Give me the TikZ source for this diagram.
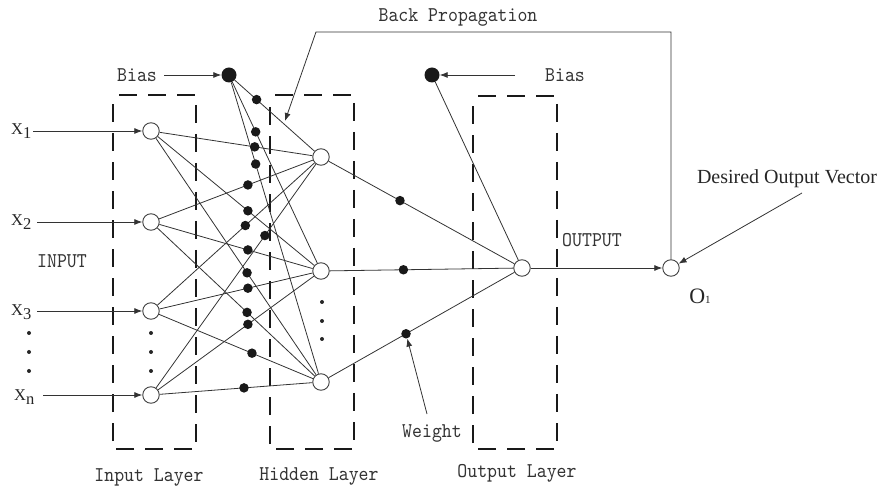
\documentclass[tikz,border=0pt]{standalone}
\usepackage{fontspec}
\usetikzlibrary{arrows.meta,calc}
\newfontfamily\labfont[Extension=.otf,FakeStretch=0.9]{lmmono10-regular}
\newfontfamily\serfont{Liberation Serif}
\begin{document}
\begin{tikzpicture}[x=1pt,y=-1pt,
  neuron/.style={circle,draw=black!75,fill=white,line width=0.9pt,minimum size=16.5pt,inner sep=0pt},
  wdot/.style={circle,fill=black!90,minimum size=9.5pt,inner sep=0pt},
  bdot/.style={circle,fill=black!90,minimum size=15pt,inner sep=0pt},
  edot/.style={circle,fill=black!85,minimum size=4pt,inner sep=0pt},
  conn/.style={line width=0.8pt,draw=black!80},
  arr/.style={conn,-{Latex[length=8pt,width=6pt]}},
  layerbox/.style={line width=2.6pt,draw=black!90,dash pattern=on 18pt off 11pt},
  lab/.style={font=\labfont\fontsize{21}{22}\selectfont,text=black!80,inner sep=0pt,anchor=base},
  ser/.style={font=\serfont\fontsize{20}{22}\selectfont,text=black!85,inner sep=0pt,anchor=base},
  xlab/.style={font=\serfont\fontsize{16.5}{18}\selectfont,text=black!85,inner sep=0pt,anchor=base west},
]
\useasboundingbox (0,0) rectangle (884,486);

% dashed layer boxes
\draw[layerbox] (119,95) -- (196,95) -- (196,449) -- (113,449) -- (113,103);
\draw[layerbox] (275,95) -- (354,95) -- (354,449) -- (270,449) -- (270,103);
\draw[layerbox] (478,96) -- (557,96) -- (557,449) -- (473,449) -- (473,104);

% neurons
\node[neuron] (I1) at (151,131) {};
\node[neuron] (I2) at (151,222) {};
\node[neuron] (I3) at (151,311) {};
\node[neuron] (In) at (151,395) {};
\node[neuron] (H1) at (321,157) {};
\node[neuron] (H2) at (321,271) {};
\node[neuron] (H3) at (321,382) {};
\node[neuron] (O) at (522,268) {};
\node[neuron] (O1) at (671,268) {};
\node[bdot] (B1) at (229,75) {};
\node[bdot] (B2) at (432,75) {};

% input -> hidden connections
\foreach \a in {I1,I2,I3,In}{
  \foreach \b in {H1,H2,H3}{
    \draw[conn] (\a) -- (\b);
  }
}
\foreach \b in {H1,H2,H3}{
  \draw[conn] (B1) -- (\b);
  \draw[conn] (\b) -- (O);
}
\draw[conn] (B2) -- (O);

% weight dots
\node[wdot] (d1) at ($(B1)!0.30!(H1)$) {};
\node[wdot] (d2) at ($(B1)!0.29!(H2)$) {};
\node[wdot] (d3) at ($(I1)!0.61!(H1)$) {};
\node[wdot] (d4) at ($(B1)!0.29!(H3)$) {};
\node[wdot] (d5) at ($(I2)!0.57!(H1)$) {};
\node[wdot] (d6) at ($(I1)!0.57!(H2)$) {};
\node[wdot] (d7) at ($(I3)!0.555!(H1)$) {};
\node[wdot] (d8) at ($(In)!0.67!(H1)$) {};
\node[wdot] (d9) at ($(I2)!0.57!(H2)$) {};
\node[wdot] (d10) at ($(I1)!0.565!(H3)$) {};
\node[wdot] (d11) at ($(I3)!0.57!(H2)$) {};
\node[wdot] (d12) at ($(I2)!0.565!(H3)$) {};
\node[wdot] (d13) at ($(In)!0.57!(H2)$) {};
\node[wdot] (d14) at ($(I3)!0.594!(H3)$) {};
\node[wdot] (d15) at ($(In)!0.547!(H3)$) {};
\node[wdot] (w1) at ($(H1)!0.393!(O)$) {};
\node[wdot] (w2) at ($(H2)!0.41!(O)$) {};
\node[wdot] (w3) at ($(H3)!0.423!(O)$) {};

% ellipsis dots
\foreach \y [count=\i] in {333,352,371}{
  \node[edot] (ex\i) at (29,\y) {};
  \node[edot] (ei\i) at (151,\y) {};
}
\foreach \y [count=\i] in {302,321,339}{
  \node[edot] (eh\i) at (322,\y) {};
}

% input labels and arrows
\node[xlab] (X1) at (11,135) {X\raisebox{-4pt}{1}};
\node[xlab] (X2) at (11,226) {X\raisebox{-4pt}{2}};
\node[xlab] (X3) at (11,316) {X\raisebox{-4pt}{3}};
\node[xlab] (Xn) at (14,400) {X\raisebox{-4pt}{n}};
\coordinate (x1s) at (33,131);
\coordinate (x2s) at (37,222);
\coordinate (x3s) at (37,311);
\coordinate (xns) at (43,395);
\draw[arr] (x1s) -- (I1);
\draw[arr] (x2s) -- (I2);
\draw[arr] (x3s) -- (I3);
\draw[arr] (xns) -- (In);

% bias labels
\node[lab] (biasL) at (137,82) {Bias};
\node[lab] (biasR) at (565,82) {Bias};
\coordinate (bls) at (164,75);
\coordinate (brs) at (515,75);
\draw[arr] (bls) -- (B1);
\draw[arr] (brs) -- (B2);

% output
\draw[arr] (O) -- (O1);
\node[lab] (outlab) at (592,247) {OUTPUT};
\node[lab] (inlab) at (62,268) {INPUT};

% back propagation
\node[lab] (bplab) at (458,22) {Back Propagation};
\coordinate (bpc1) at (671,32);
\coordinate (bpc2) at (316,32);
\coordinate (bpend) at (285,121);
\draw[arr] (O1.north) -- (bpc1) -- (bpc2) -- (bpend);

% desired output vector
\node[ser] (dov) at (787,184) {Desired Output Vector};
\coordinate (dovs) at (802,193);
\draw[arr] (dovs) -- (O1);
\node[font=\serfont\fontsize{22}{24}\selectfont,text=black!85,inner sep=0pt,anchor=base] (o1lab) at (700,304) {O{\fontsize{11}{12}\selectfont 1}};

% weight
\node[lab] (wlab) at (432,437) {Weight};
\coordinate (wls) at (427,414);
\draw[arr] (wls) -- (w3);

% layer labels
\node[lab] (ilayer) at (149,481) {Input Layer};
\node[lab] (hlayer) at (319,480) {Hidden Layer};
\node[lab] (olayer) at (517,477) {Output Layer};
\end{tikzpicture}
\end{document}
